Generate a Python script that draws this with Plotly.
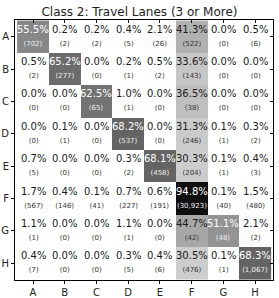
import plotly.graph_objects as go

labels = ["A", "B", "C", "D", "E", "F", "G", "H"]
title_text = "Class 2: Travel Lanes (3 or More)"

pct = [
    [55.5, 0.2, 0.2, 0.4, 2.1, 41.3, 0.0, 0.5],
    [0.5, 65.2, 0.0, 0.2, 0.5, 33.6, 0.0, 0.0],
    [0.0, 0.0, 62.5, 1.0, 0.0, 36.5, 0.0, 0.0],
    [0.0, 0.1, 0.0, 68.2, 0.0, 31.3, 0.1, 0.3],
    [0.7, 0.0, 0.0, 0.3, 68.1, 30.3, 0.1, 0.4],
    [1.7, 0.4, 0.1, 0.7, 0.6, 94.8, 0.1, 1.5],
    [1.1, 0.0, 0.0, 1.1, 0.0, 44.7, 51.1, 2.1],
    [0.4, 0.0, 0.0, 0.3, 0.4, 30.5, 0.1, 68.3],
]

counts = [
    [702, 2, 2, 5, 26, 522, 0, 6],
    [2, 277, 0, 1, 2, 143, 0, 0],
    [0, 0, 65, 1, 0, 38, 0, 0],
    [0, 1, 0, 537, 0, 246, 1, 2],
    [5, 0, 0, 2, 458, 204, 1, 3],
    [567, 146, 41, 227, 191, 30923, 40, 480],
    [1, 0, 0, 1, 0, 42, 48, 2],
    [7, 0, 0, 5, 6, 476, 1, 1067],
]

fig = go.Figure()
fig.add_trace(go.Heatmap(
    z=pct, x=labels, y=labels,
    colorscale="Greys", zmin=0, zmax=100,
    showscale=False, xgap=0, ygap=0, hoverinfo="skip",
))
# helper trace (no points) so the mirrored inward-tick axes are drawn
fig.add_trace(go.Scatter(x=labels, y=labels, xaxis="x2", yaxis="y2",
                         mode="markers", marker=dict(opacity=0),
                         hoverinfo="skip", showlegend=False))

annotations = []
for i, row in enumerate(labels):
    for j, col in enumerate(labels):
        v = pct[i][j]
        c = counts[i][j]
        color = "white" if v > 50 else "#1a1a1a"
        ccolor = "#eeeeee" if v > 50 else "#333333"
        annotations.append(dict(
            x=col, y=row, xref="x", yref="y", showarrow=False,
            text=f"{v:.1f}%<br><span style='font-size:7px;color:{ccolor}'>({c:,})</span>",
            font=dict(family="DejaVu Sans", size=10, color=color),
            align="center", yshift=1,
        ))

fig.update_layout(
    width=279, height=298,
    margin=dict(l=15, r=6, t=20, b=18, autoexpand=False),
    paper_bgcolor="white", plot_bgcolor="white",
    title=dict(text=title_text, x=0.5, xanchor="center", y=0.96, yanchor="middle",
               font=dict(family="DejaVu Sans", size=12, color="#222222"),
               automargin=False),
    annotations=annotations,
    font=dict(family="DejaVu Sans", size=10, color="#222222"),
    xaxis=dict(showline=True, linecolor="black", linewidth=1, mirror=True,
               ticks="outside", ticklen=3, tickcolor="black", showgrid=False,
               tickfont=dict(size=10, color="#222222"), automargin=False),
    yaxis=dict(showline=True, linecolor="black", linewidth=1, mirror=True,
               ticks="outside", ticklen=3, tickcolor="black", showgrid=False,
               autorange="reversed", tickfont=dict(size=10, color="#222222"),
               automargin=False),
    xaxis2=dict(overlaying="x", side="top", matches="x", showticklabels=False,
                ticks="inside", ticklen=3, tickcolor="black", showgrid=False,
                showline=False, zeroline=False, automargin=False),
    yaxis2=dict(overlaying="y", side="right", matches="y", showticklabels=False,
                ticks="inside", ticklen=3, tickcolor="black", showgrid=False,
                showline=False, zeroline=False, automargin=False),
)

fig.write_html("out.html", config={"displayModeBar": False},
               post_script="document.body.style.margin='0';document.body.style.overflow='hidden';")
